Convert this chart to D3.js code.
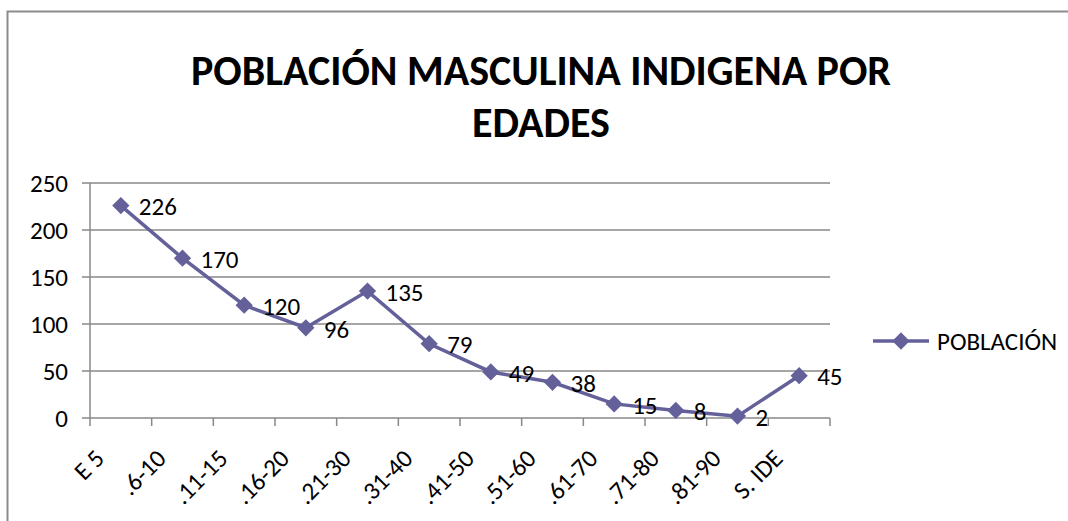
<!DOCTYPE html>
<html>
<head>
<meta charset="utf-8">
<script src="https://cdn.jsdelivr.net/npm/d3@7"></script>
<style>
  body { margin: 0; background: #fff; }
  text { font-family: Carlito, "Open Sans", sans-serif; fill: #000; }
</style>
</head>
<body>
<div id="chart"></div>
<script>
// edades y poblacion
var categories = ["E 5", ".6-10", ".11-15", ".16-20", ".21-30", ".31-40", ".41-50", ".51-60", ".61-70", ".71-80", ".81-90", "S. IDE"];
var poblacion = [226, 170, 120, 96, 135, 79, 49, 38, 15, 8, 2, 45];
var yTicks = [0, 50, 100, 150, 200, 250];
var titleLines = ["POBLACIÓN MASCULINA INDIGENA POR", "EDADES"];
var seriesName = "POBLACIÓN";

var width = 1068, height = 521;
var lineColor = "#64609a";
var gridColor = "#898989";
var labelSize = "25px";

var svg = d3.select("#chart").append("svg")
    .attr("width", width)
    .attr("height", height);

// marco del grafico
svg.append("rect")
    .attr("x", 7.5)
    .attr("y", 11.5)
    .attr("width", 1100)
    .attr("height", 600)
    .attr("fill", "none")
    .attr("stroke", "#8c8c8c")
    .attr("stroke-width", 2);

// titulo
svg.selectAll(".title")
    .data(titleLines)
    .enter()
    .append("text")
    .attr("class", "title")
    .attr("x", 541)
    .attr("y", function (d, i) { return 85 + i * 52; })
    .attr("text-anchor", "middle")
    .style("font-size", "42px")
    .style("font-weight", "bold")
    .text(function (d) { return d; });

var plot = { left: 90, right: 830, top: 183, bottom: 418 };

var xScale = d3.scaleBand()
    .domain(categories)
    .range([plot.left, plot.right]);

var yScale = d3.scaleLinear()
    .domain([0, 250])
    .range([plot.bottom, plot.top]);

var g = svg.append("g");

// gridlines
g.selectAll(".grid")
    .data(yTicks)
    .enter()
    .append("line")
    .attr("x1", plot.left - 8)
    .attr("x2", plot.right)
    .attr("y1", function (d) { return yScale(d); })
    .attr("y2", function (d) { return yScale(d); })
    .attr("stroke", gridColor)
    .attr("stroke-width", 1.5);

// eje y
g.append("line")
    .attr("x1", plot.left).attr("x2", plot.left)
    .attr("y1", plot.top).attr("y2", plot.bottom)
    .attr("stroke", gridColor)
    .attr("stroke-width", 1.5);

g.selectAll(".ylabel")
    .data(yTicks)
    .enter()
    .append("text")
    .attr("x", plot.left - 22)
    .attr("y", function (d) { return yScale(d); })
    .attr("dy", "0.35em")
    .attr("text-anchor", "end")
    .style("font-size", labelSize)
    .text(function (d) { return d; });

// ticks eje x
var boundaries = categories.map(function (c) { return xScale(c); }).concat([plot.right]);
g.selectAll(".xtick")
    .data(boundaries)
    .enter()
    .append("line")
    .attr("x1", function (d) { return d; })
    .attr("x2", function (d) { return d; })
    .attr("y1", plot.bottom)
    .attr("y2", plot.bottom + 8)
    .attr("stroke", gridColor)
    .attr("stroke-width", 1.5);

g.selectAll(".xlabel")
    .data(categories)
    .enter()
    .append("text")
    .attr("transform", function (d) {
        return "translate(" + (xScale(d) + xScale.bandwidth() / 2 - 15) + "," + (plot.bottom + 42) + ") rotate(-45)";
    })
    .attr("text-anchor", "end")
    .style("font-size", labelSize)
    .text(function (d) { return d; });

// linea
var cx = function (d, i) { return xScale(categories[i]) + xScale.bandwidth() / 2; };

g.append("path")
    .attr("d", d3.line()
        .x(cx)
        .y(function (d) { return yScale(d); })(poblacion))
    .attr("fill", "none")
    .attr("stroke", lineColor)
    .attr("stroke-width", 3.5);

var diamond = d3.symbol().type(d3.symbolDiamond2).size(190);

g.selectAll(".marker")
    .data(poblacion)
    .enter()
    .append("path")
    .attr("d", diamond)
    .attr("transform", function (d, i) { return "translate(" + cx(d, i) + "," + yScale(d) + ")"; })
    .attr("fill", lineColor);

g.selectAll(".dlabel")
    .data(poblacion)
    .enter()
    .append("text")
    .attr("x", function (d, i) { return cx(d, i) + 18; })
    .attr("y", function (d) { return yScale(d) + 1; })
    .attr("dy", "0.35em")
    .style("font-size", labelSize)
    .text(function (d) { return d; });

// leyenda
var legend = svg.append("g").attr("transform", "translate(873,341)");
legend.append("line")
    .attr("x1", 0).attr("x2", 56)
    .attr("stroke", lineColor)
    .attr("stroke-width", 3.5);
legend.append("path")
    .attr("d", diamond)
    .attr("transform", "translate(28,0)")
    .attr("fill", lineColor);
legend.append("text")
    .attr("x", 64)
    .attr("dy", "0.35em")
    .style("font-size", labelSize)
    .text(seriesName);
</script>
</body>
</html>
